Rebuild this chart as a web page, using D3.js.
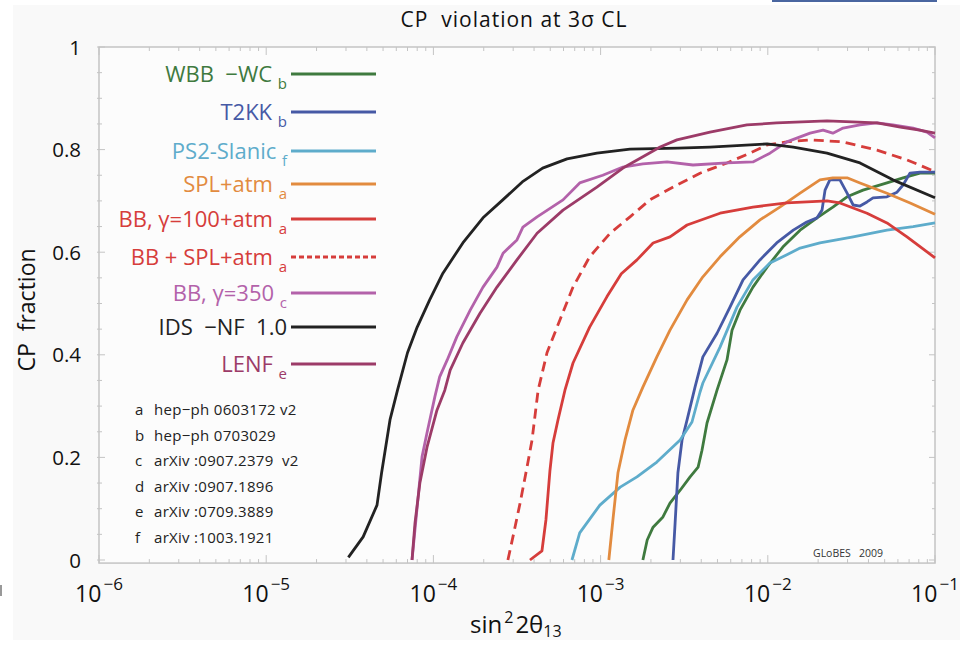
<!DOCTYPE html>
<html lang="en">
<head>
<meta charset="UTF-8">
<title>CP violation at 3 sigma CL</title>
<script src="https://cdn.jsdelivr.net/npm/d3@7"></script>
<style>
  body { margin: 0; background: #fff; }
  text { font-family: "Open Sans", "DejaVu Sans", sans-serif; }
</style>
</head>
<body>
<script>
// sin^2 2theta13 values (x) and CP fraction (y)
const wbbX = [1.79e-3,1.9e-3,2.06e-3,2.36e-3,2.6e-3,2.99e-3,3.43e-3,3.83e-3,4.04e-3,4.33e-3,4.97e-3,5.7e-3,6.11e-3,6.82e-3,8.15e-3,9.9e-3,1.23e-2,1.56e-2,1.97e-2,2.45e-2,2.98e-2,3.71e-2,5.16e-2,6.44e-2,8.13e-2,0.1];
const wbbY = [0,0.039,0.064,0.084,0.111,0.136,0.162,0.181,0.214,0.267,0.331,0.39,0.448,0.487,0.532,0.571,0.61,0.643,0.667,0.688,0.708,0.721,0.735,0.745,0.754,0.754];

const t2kkX = [2.71e-3,2.79e-3,2.9e-3,3.07e-3,3.29e-3,3.67e-3,4.09e-3,4.97e-3,5.94e-3,7.11e-3,8.98e-3,1.13e-2,1.42e-2,1.71e-2,1.97e-2,2.11e-2,2.2e-2,2.35e-2,2.7e-2,2.98e-2,3.24e-2,3.56e-2,3.92e-2,4.26e-2,5.16e-2,5.93e-2,6.44e-2,7.08e-2,8.13e-2,0.1];
const t2kkY = [0,0.072,0.17,0.234,0.273,0.337,0.396,0.442,0.493,0.546,0.585,0.618,0.643,0.659,0.667,0.682,0.721,0.741,0.741,0.715,0.692,0.69,0.698,0.706,0.708,0.717,0.731,0.754,0.756,0.756];

const ps2X = [6.74e-4,7.5e-4,9.9e-4,1.31e-3,1.65e-3,2.17e-3,2.99e-3,3.52e-3,3.93e-3,4.09e-3,5.18e-3,6.54e-3,8.15e-3,1.03e-2,1.3e-2,1.56e-2,2.05e-2,3.24e-2,5.16e-2,7.4e-2,0.1];
const ps2Y = [0,0.053,0.107,0.142,0.162,0.191,0.234,0.269,0.327,0.345,0.415,0.493,0.546,0.579,0.595,0.608,0.618,0.63,0.643,0.65,0.657];

const splX = [1.12e-3,1.19e-3,1.27e-3,1.4e-3,1.56e-3,1.79e-3,2.17e-3,2.6e-3,3.29e-3,4.09e-3,5.18e-3,6.8e-3,8.98e-3,1.18e-2,1.56e-2,2.05e-2,2.45e-2,2.98e-2,3.56e-2,5.16e-2,7.1e-2,0.1];
const splY = [0,0.084,0.17,0.234,0.292,0.337,0.396,0.448,0.507,0.552,0.591,0.63,0.663,0.688,0.715,0.741,0.745,0.745,0.735,0.715,0.696,0.674];

const bb100X = [3.78e-4,4.46e-4,4.71e-4,4.98e-4,5.19e-4,5.56e-4,6.12e-4,6.84e-4,8.6e-4,1.09e-3,1.33e-3,1.65e-3,2.06e-3,2.6e-3,3.29e-3,5.18e-3,8.15e-3,1.3e-2,2.26e-2,2.7e-2,3.92e-2,5.16e-2,6.8e-2,0.1];
const bb100Y = [0,0.018,0.078,0.175,0.228,0.273,0.331,0.384,0.454,0.513,0.558,0.585,0.618,0.63,0.653,0.676,0.688,0.696,0.7,0.696,0.676,0.657,0.63,0.589];

const bbsplX = [2.79e-4,2.99e-4,3.3e-4,3.63e-4,3.89e-4,4.23e-4,4.78e-4,5.71e-4,6.84e-4,8.6e-4,1.14e-3,1.5e-3,1.97e-3,2.86e-3,3.93e-3,5.7e-3,7.8e-3,9.9e-3,1.3e-2,1.79e-2,2.82e-2,4.5e-2,6.8e-2,0.1];
const bbsplY = [0,0.045,0.111,0.181,0.234,0.331,0.404,0.468,0.532,0.591,0.637,0.669,0.702,0.731,0.754,0.774,0.793,0.809,0.815,0.819,0.815,0.799,0.78,0.757];

const bb350X = [7.45e-5,8.55e-5,9.16e-5,1.02e-4,1.09e-4,1.21e-4,1.38e-4,1.66e-4,1.98e-4,2.4e-4,2.61e-4,3.16e-4,3.43e-4,4.17e-4,5.96e-4,7.5e-4,1.03e-3,1.36e-3,1.79e-3,2.5e-3,3.57e-3,5.7e-3,8.15e-3,1.03e-2,1.3e-2,1.79e-2,2.14e-2,2.45e-2,2.82e-2,3.56e-2,4.5e-2,5.6e-2,7.4e-2,8.95e-2,0.1];
const bb350Y = [0,0.201,0.248,0.318,0.357,0.39,0.435,0.487,0.532,0.571,0.598,0.624,0.649,0.669,0.702,0.735,0.75,0.766,0.772,0.776,0.77,0.774,0.776,0.793,0.815,0.832,0.838,0.832,0.842,0.848,0.852,0.848,0.842,0.834,0.823];

const idsX = [3.1e-5,3.8e-5,4.6e-5,4.9e-5,5.5e-5,6.1e-5,7e-5,8e-5,9.5e-5,1.14e-4,1.5e-4,1.98e-4,2.6e-4,3.4e-4,4.5e-4,6.3e-4,9.5e-4,1.5e-3,2.9e-3,4.5e-3,9.9e-3,1.42e-2,2.26e-2,3.56e-2,5.6e-2,0.1];
const idsY = [0.005,0.045,0.107,0.17,0.273,0.331,0.404,0.454,0.507,0.559,0.618,0.667,0.702,0.737,0.764,0.782,0.793,0.801,0.803,0.805,0.811,0.805,0.793,0.774,0.741,0.706];

const lenfX = [7.45e-5,7.76e-5,8.3e-5,9.16e-5,1.05e-4,1.17e-4,1.26e-4,1.5e-4,1.9e-4,2.4e-4,3.16e-4,4.17e-4,5.96e-4,9.5e-4,1.36e-3,1.79e-3,2.27e-3,2.86e-3,4.51e-3,7.5e-3,1.13e-2,2.26e-2,4.5e-2,6.2e-2,8.1e-2,0.1];
const lenfY = [0,0.072,0.15,0.22,0.292,0.331,0.37,0.423,0.481,0.532,0.585,0.637,0.682,0.727,0.764,0.786,0.805,0.819,0.834,0.848,0.852,0.856,0.852,0.844,0.838,0.832];

const labels = ["WBB  \u2212WC", "T2KK", "PS2-Slanic", "SPL+atm", "BB, \u03b3=100+atm", "BB + SPL+atm", "BB, \u03b3=350", "IDS  \u2212NF  1.0", "LENF"];
const refs = ["b", "b", "f", "a", "a", "a", "c", "", "e"];
const colors = ["#3f7a3f", "#4659a5", "#5eaccb", "#e28b3f", "#d63d3b", "#d63d3b", "#b362aa", "#222222", "#9c3b68"];
const dashed = [false, false, false, false, false, true, false, false, false];
const seriesX = [wbbX, t2kkX, ps2X, splX, bb100X, bbsplX, bb350X, idsX, lenfX];
const seriesY = [wbbY, t2kkY, ps2Y, splY, bb100Y, bbsplY, bb350Y, idsY, lenfY];

const notes = [["a", "hep\u2212ph 0603172 v2"], ["b", "hep\u2212ph 0703029"], ["c", "arXiv :0907.2379  v2"],
               ["d", "arXiv :0907.1896"], ["e", "arXiv :0709.3889"], ["f", "arXiv :1003.1921"]];
const yTicks = [0, 0.2, 0.4, 0.6, 0.8, 1];
const xExps = [-6, -5, -4, -3, -2, -1];

const W = 972, H = 645;
const svg = d3.select("body").append("svg").attr("width", W).attr("height", H);

// page background and stray bits of the scan
svg.append("rect").attr("x", 13).attr("y", 5).attr("width", 947).attr("height", 635).attr("fill", "#f9f9f9");
svg.append("rect").attr("x", 772).attr("y", 0).attr("width", 165).attr("height", 2).attr("fill", "#4a66a0");
svg.append("rect").attr("x", 0).attr("y", 585).attr("width", 2).attr("height", 11).attr("fill", "#999");

const x = d3.scaleLog().domain([1e-6, 0.1]).range([99, 935]);
const y = d3.scaleLinear().domain([0, 1]).range([560, 47]);
const yb = y(-0.006);

// frame
const fc = "#c4c4c4";
svg.append("rect").attr("x", x(1e-6)).attr("y", y(1)).attr("width", x(0.1) - x(1e-6))
    .attr("height", yb - y(1)).attr("fill", "#fcfcfc").attr("stroke", fc).attr("stroke-width", 1.5);

const ax = svg.append("g").attr("stroke", fc).attr("stroke-width", 1);
x.ticks().forEach(t => {
    const major = Math.abs(Math.log10(t) - Math.round(Math.log10(t))) < 1e-6;
    const len = major ? 8 : 4;
    ax.append("line").attr("x1", x(t)).attr("x2", x(t)).attr("y1", yb).attr("y2", yb - len);
    ax.append("line").attr("x1", x(t)).attr("x2", x(t)).attr("y1", y(1)).attr("y2", y(1) + len);
});
d3.range(0, 1.0001, 0.05).forEach(t => {
    const major = Math.abs(t * 5 - Math.round(t * 5)) < 1e-6;
    const len = major ? 6 : 3;
    ax.append("line").attr("x1", x(1e-6) - 2).attr("x2", x(1e-6) + len).attr("y1", y(t)).attr("y2", y(t));
    ax.append("line").attr("x1", x(0.1) - len).attr("x2", x(0.1)).attr("y1", y(t)).attr("y2", y(t));
});

// tick labels
svg.append("g").selectAll("text").data(yTicks).join("text")
    .attr("x", 81).attr("y", d => y(d) + 7.5).attr("text-anchor", "end")
    .attr("font-size", 20.5).attr("fill", "#111").text(d => d === 0 || d === 1 ? d : d.toFixed(1));

const xl = svg.append("g").selectAll("text").data(xExps).join("text")
    .attr("x", d => x(Math.pow(10, d))).attr("y", 602).attr("text-anchor", "middle")
    .attr("font-size", 23).attr("fill", "#111");
xl.append("tspan").text("10");
xl.append("tspan").attr("dx", 2).attr("dy", -12).attr("font-size", 17).text(d => "\u2212" + Math.abs(d));

// titles
svg.append("text").attr("x", 514).attr("y", 27).attr("text-anchor", "middle")
    .attr("font-size", 21).attr("letter-spacing", 1).attr("fill", "#111")
    .style("white-space", "pre").text("CP  violation at 3\u03c3 CL");
svg.append("text").attr("transform", "translate(35,310) rotate(-90)").attr("text-anchor", "middle")
    .attr("font-size", 23).attr("fill", "#111").style("white-space", "pre").text("CP  fraction");
const xt = svg.append("text").attr("x", 470).attr("y", 633).attr("font-size", 24).attr("fill", "#111");
xt.append("tspan").text("sin");
xt.append("tspan").attr("dx", 2).attr("dy", -10).attr("font-size", 16).text("2");
xt.append("tspan").attr("dx", 2).attr("dy", 10).text("2\u03b8");
xt.append("tspan").attr("dy", 4).attr("font-size", 16).text("13");
svg.append("text").attr("x", 813).attr("y", 557).attr("font-size", 10.5).attr("fill", "#333")
    .style("white-space", "pre").text("GLoBES   2009");

// curves
const line = d3.line().x(d => x(d[0])).y(d => y(d[1]));
const curves = svg.append("g").attr("fill", "none").attr("stroke-width", 2.8)
    .attr("stroke-linejoin", "round").attr("stroke-linecap", "butt");
seriesX.forEach((xs, i) => {
    curves.append("path")
        .attr("d", line(xs.map((v, j) => [v, seriesY[i][j]])))
        .attr("stroke", colors[i])
        .attr("stroke-dasharray", dashed[i] ? "10,6" : null);
});

// legend
const legY = [74, 112, 151, 184, 219, 257, 293, 327, 364];
const leg = svg.append("g");
labels.forEach((lab, i) => {
    const t = leg.append("text").attr("x", 287).attr("y", legY[i] + 7.5).attr("text-anchor", "end")
        .attr("font-size", 22).attr("fill", colors[i]).style("white-space", "pre");
    t.append("tspan").text(lab + (refs[i] ? " " : ""));
    if (refs[i]) t.append("tspan").attr("dy", 7).attr("font-size", 15).text(refs[i]);
    leg.append("line").attr("x1", 291).attr("x2", 376).attr("y1", legY[i]).attr("y2", legY[i])
        .attr("stroke", colors[i]).attr("stroke-width", 3.2)
        .attr("stroke-dasharray", dashed[i] ? "5,3" : null);
});

// reference notes
const nt = svg.append("g").attr("font-size", 15).attr("letter-spacing", 0.3).attr("fill", "#222");
notes.forEach((n, i) => {
    nt.append("text").attr("x", 135).attr("y", 415 + i * 25.5).text(n[0]);
    nt.append("text").attr("x", 154).attr("y", 415 + i * 25.5).style("white-space", "pre").text(n[1]);
});
</script>
</body>
</html>
